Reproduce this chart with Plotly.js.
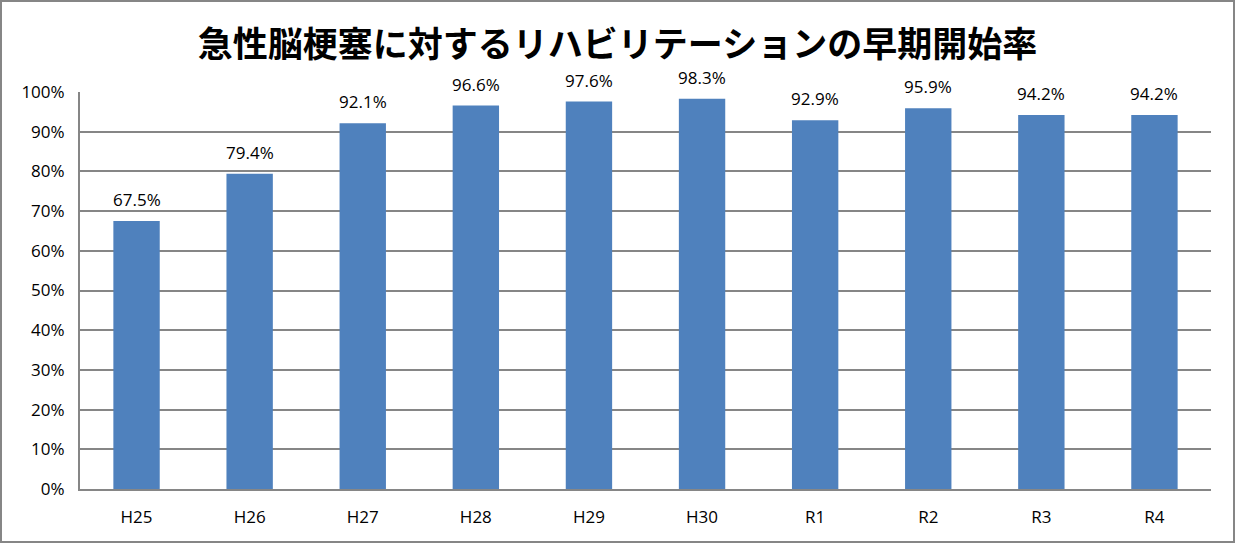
<!DOCTYPE html>
<html>
<head>
<meta charset="utf-8">
<script src="https://cdn.plot.ly/plotly-3.0.1.min.js"></script>
<style>
html,body{margin:0;padding:0;background:#fff;}
#chart{width:1235px;height:543px;box-sizing:border-box;border:2px solid #868686;}
</style>
</head>
<body>
<div id="chart"></div>
<script>
const categories = ["H25","H26","H27","H28","H29","H30","R1","R2","R3","R4"];
const values = [67.5, 79.4, 92.1, 96.6, 97.6, 98.3, 92.9, 95.9, 94.2, 94.2];
const valueLabels = ["67.5%","79.4%","92.1%","96.6%","97.6%","98.3%","92.9%","95.9%","94.2%","94.2%"];
const titleText = "急性脳梗塞に対するリハビリテーションの早期開始率";

const labelFont = {family: "Open Sans, Noto Sans, sans-serif", size: 17, color: "#000"};

const trace = {
  type: "bar",
  x: categories,
  y: values,
  marker: {color: "#4F81BD"},
  hoverinfo: "x+y"
};

const annotations = categories.map((c, i) => ({
  x: c, y: values[i], xref: "x", yref: "y",
  text: valueLabels[i], showarrow: false,
  yanchor: "bottom", yshift: 8,
  font: labelFont
}));

const layout = {
  width: 1231, height: 539,
  margin: {l: 78, r: 22, t: 90, b: 52, pad: 0},
  paper_bgcolor: "#fff",
  plot_bgcolor: "#fff",
  bargap: 0.59,
  showlegend: false,
  annotations: annotations,
  title: {
    text: titleText,
    font: {family: "Noto Sans CJK JP, sans-serif", size: 35, color: "#000", weight: "bold"},
    x: 0.5, xanchor: "center", y: 0.92, yanchor: "middle"
  },
  xaxis: {
    type: "category",
    showline: true, linecolor: "#868686", linewidth: 2,
    ticks: "", showgrid: false,
    tickfont: {family: "Open Sans, Noto Sans, sans-serif", size: 17, color: "#000"},
    ticklabelstandoff: 12
  },
  yaxis: {
    range: [0, 100],
    dtick: 10,
    ticksuffix: "%",
    showline: true, linecolor: "#868686", linewidth: 2,
    showgrid: true, gridcolor: "#868686", gridwidth: 2,
    zeroline: false,
    ticks: "",
    tickfont: {family: "Open Sans, Noto Sans, sans-serif", size: 17, color: "#000"},
    ticklabelstandoff: 10
  }
};

Plotly.newPlot("chart", [trace], layout, {displayModeBar: false, staticPlot: true});
</script>
</body>
</html>
